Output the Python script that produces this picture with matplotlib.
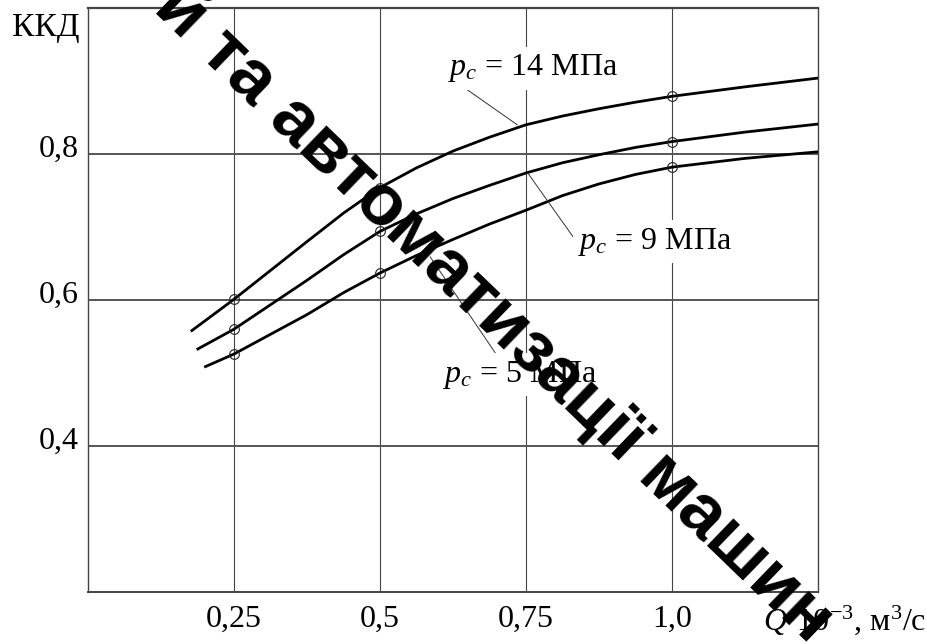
import matplotlib
matplotlib.use('Agg')
import matplotlib.pyplot as plt
import matplotlib.transforms as mtransforms

plt.rcParams['font.family'] = ['Liberation Serif', 'DejaVu Serif']
plt.rcParams['mathtext.fontset'] = 'custom'
plt.rcParams['mathtext.rm'] = 'Liberation Serif'
plt.rcParams['mathtext.it'] = 'Liberation Serif:italic'

# криві ККД = f(Q) для трьох тисків
q14 = [0.176, 0.25, 0.375, 0.4375, 0.5, 0.5625, 0.625, 0.6875, 0.75, 0.8125, 0.875, 0.9375, 1.0, 1.125, 1.25]
kkd14 = [0.557, 0.601, 0.680, 0.719, 0.754, 0.781, 0.804, 0.823, 0.840, 0.852, 0.862, 0.871, 0.879, 0.892, 0.904]
q9 = [0.186, 0.25, 0.375, 0.4375, 0.5, 0.5625, 0.625, 0.6875, 0.75, 0.8125, 0.875, 0.9375, 1.0, 1.125, 1.25]
kkd9 = [0.532, 0.560, 0.627, 0.662, 0.694, 0.718, 0.739, 0.757, 0.774, 0.788, 0.799, 0.809, 0.817, 0.830, 0.841]
q5 = [0.199, 0.25, 0.375, 0.4375, 0.5, 0.5625, 0.625, 0.6875, 0.75, 0.8125, 0.875, 0.9375, 1.0, 1.125, 1.25]
kkd5 = [0.508, 0.526, 0.580, 0.610, 0.637, 0.661, 0.683, 0.704, 0.723, 0.743, 0.759, 0.772, 0.782, 0.794, 0.803]

# експериментальні точки
q_pts = [0.25, 0.5, 1.0]
pts14 = [0.601, 0.754, 0.879]
pts9 = [0.560, 0.694, 0.817]
pts5 = [0.526, 0.637, 0.782]

xticks = [0.25, 0.5, 0.75, 1.0]
xlabels = ['0,25', '0,5', '0,75', '1,0']
yticks = [0.4, 0.6, 0.8]
ylabels = ['0,4', '0,6', '0,8']

fig = plt.figure(figsize=(9.28, 6.44), dpi=100)
ax = fig.add_axes([88/928, 52/644, 730/928, 584/644])
ax.set_xlim(0, 1.25)
ax.set_ylim(0.2, 1.0)

ax.set_xticks(xticks)
ax.set_xticklabels(xlabels, fontsize=23)
ax.set_yticks(yticks)
ax.set_yticklabels(ylabels, fontsize=23)
ax.tick_params(axis='both', length=0)
ax.tick_params(axis='x', pad=9)
ax.tick_params(axis='y', pad=7)
for lab in ax.get_yticklabels():
    lab.set_transform(lab.get_transform() + mtransforms.ScaledTranslation(0, 6/72, fig.dpi_scale_trans))

ax.yaxis.grid(True, color='#555555', lw=1.4)
ax.xaxis.grid(True, color='#444444', lw=0.8)
ax.set_axisbelow(True)
for s in ax.spines.values():
    s.set_color('#444444')
    s.set_linewidth(1.0)
ax.spines['top'].set_linewidth(1.6)
ax.spines['bottom'].set_linewidth(1.4)

for qq, kk, qp, kp in [(q14, kkd14, q_pts, pts14), (q9, kkd9, q_pts, pts9), (q5, kkd5, q_pts, pts5)]:
    ax.plot(qq, kk, color='black', lw=2.0, solid_capstyle='butt', solid_joinstyle='round', zorder=3)
    ax.plot(qp, kp, 'o', ms=7, mfc='none', mec='#222222', mew=0.8, zorder=4)

# підписи кривих з виносками
bb = dict(fc='white', ec='none', pad=4)
ax.text(0.616, 0.908, r'$p_c$ = 14 МПа', fontsize=23, ha='left', va='baseline', bbox=bb, zorder=5)
ax.text(0.839, 0.670, r'$p_c$ = 9 МПа', fontsize=23, ha='left', va='baseline', bbox=bb, zorder=5)
ax.text(0.608, 0.488, r'$p_c$ = 5 МПа', fontsize=23, ha='left', va='baseline', bbox=bb, zorder=5)
ax.plot([0.637, 0.735], [0.895, 0.840], color='#333333', lw=0.7, zorder=3)
ax.plot([0.753, 0.832], [0.774, 0.685], color='#333333', lw=0.7, zorder=3)
ax.plot([0.586, 0.702], [0.659, 0.522], color='#333333', lw=0.7, zorder=3)

fig.text(12/928, 1 - 36/644, 'ККД', fontsize=24, ha='left', va='baseline')
fig.text(926/928, 1 - 630/644, r'$Q$·10$^{-3}$, м$^3$/с', fontsize=23, ha='right', va='baseline')

# водяний знак
fig.text(165/928, 1 + 4/644, 'й та автоматизації машин', family='Liberation Sans',
         fontweight='bold', fontsize=52, color='black', rotation=-44,
         rotation_mode='anchor', ha='left', va='center', zorder=10)

fig.savefig('out.png', dpi=100)
